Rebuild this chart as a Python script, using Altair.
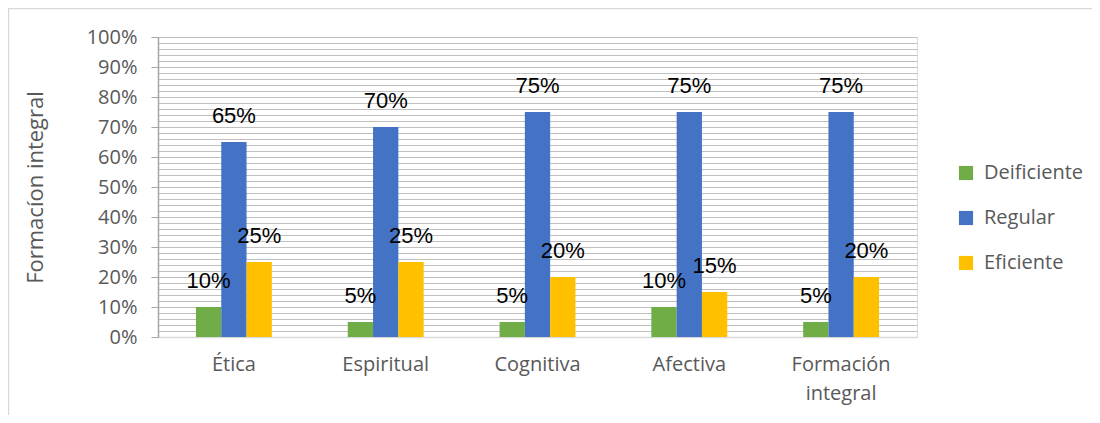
import altair as alt
import pandas as pd

categories = ["Ética", "Espiritual", "Cognitiva", "Afectiva", "Formación integral"]
series = ["Deificiente", "Regular", "Eficiente"]
deficiente = [0.10, 0.05, 0.05, 0.10, 0.05]
regular = [0.65, 0.70, 0.75, 0.75, 0.75]
eficiente = [0.25, 0.25, 0.20, 0.15, 0.20]
colors = ["#70AD47", "#4472C4", "#FFC000"]
y_ticks = [i / 50 for i in range(51)]

rows = []
for i, c in enumerate(categories):
    for s, vals in zip(series, [deficiente, regular, eficiente]):
        rows.append({"cat": c, "serie": s, "val": vals[i]})
df = pd.DataFrame(rows)

FONT = "Open Sans"
major = "round(datum.value*100) % 10 === 0"

x = alt.X("cat:N", sort=categories, title=None,
          scale=alt.Scale(paddingInner=0.5, paddingOuter=0.25),
          axis=alt.Axis(labelAngle=0, ticks=False, domainColor="#D9D9D9", domainWidth=1.5,
                        labelExpr="split(datum.label, ' ')", labelLineHeight=29,
                        labelFont=FONT, labelFontSize=20, labelColor="#595959",
                        labelPadding=17, grid=False))
xo = alt.XOffset("serie:N", sort=series, scale=alt.Scale(paddingInner=0, paddingOuter=0))
y = alt.Y("val:Q", scale=alt.Scale(domain=[0, 1], nice=False),
          axis=alt.Axis(values=y_ticks, tickCount=len(y_ticks), format=".0%",
                        labelOverlap=False,
                        labelExpr=f"{major} ? datum.label : ''",
                        tickOpacity={"condition": {"test": major, "value": 1}, "value": 0},
                        tickSize=7, tickColor="#A6A6A6", domainColor="#A6A6A6", domainWidth=1.5,
                        gridColor="#C0C0C0", gridWidth=1,
                        labelFont=FONT, labelFontSize=20, labelColor="#595959", labelPadding=14,
                        title="Formacíon integral", titleFont=FONT, titleFontSize=22,
                        titleFontWeight="normal", titleColor="#595959", titleAngle=-90,
                        titleAlign="center", titleBaseline="middle", titleX=-123, titleY=150))
color = alt.Color("serie:N", sort=series, scale=alt.Scale(domain=series, range=colors),
                  legend=alt.Legend(title=None, orient="none", legendX=798, legendY=126,
                                    symbolType="square", symbolSize=200, symbolStrokeWidth=0,
                                    labelFont=FONT, labelFontSize=20, labelColor="#595959",
                                    rowPadding=25, labelOffset=8))

bars = alt.Chart(df).mark_bar().encode(x=x, xOffset=xo, y=y, color=color)
labels = alt.Chart(df).mark_text(baseline="alphabetic", dy=-19, fontSize=22,
                                 font="Liberation Sans", color="#000000").encode(
    x=x, xOffset=xo, y=alt.Y("val:Q"), text=alt.Text("val:Q", format=".0%"))

border_data = alt.Data(values=[{"a": 1}])
top_border = alt.Chart(border_data).mark_rule(color="#D9D9D9", strokeWidth=1.5).encode(
    x=alt.value(-150), x2=alt.value(940), y=alt.value(-28.5))
left_border = alt.Chart(border_data).mark_rule(color="#D9D9D9", strokeWidth=1.5).encode(
    x=alt.value(-149.5), y=alt.value(-29), y2=alt.value(380))

chart = alt.layer(bars, labels, top_border, left_border).properties(
    width=759, height=300,
    autosize=alt.AutoSizeParams(type="none"),
    padding={"left": 150, "top": 29, "right": 175, "bottom": 78},
).configure_view(stroke=None).configure(background="white")

chart.save("out.html", embed_options={"renderer": "svg", "actions": False})
